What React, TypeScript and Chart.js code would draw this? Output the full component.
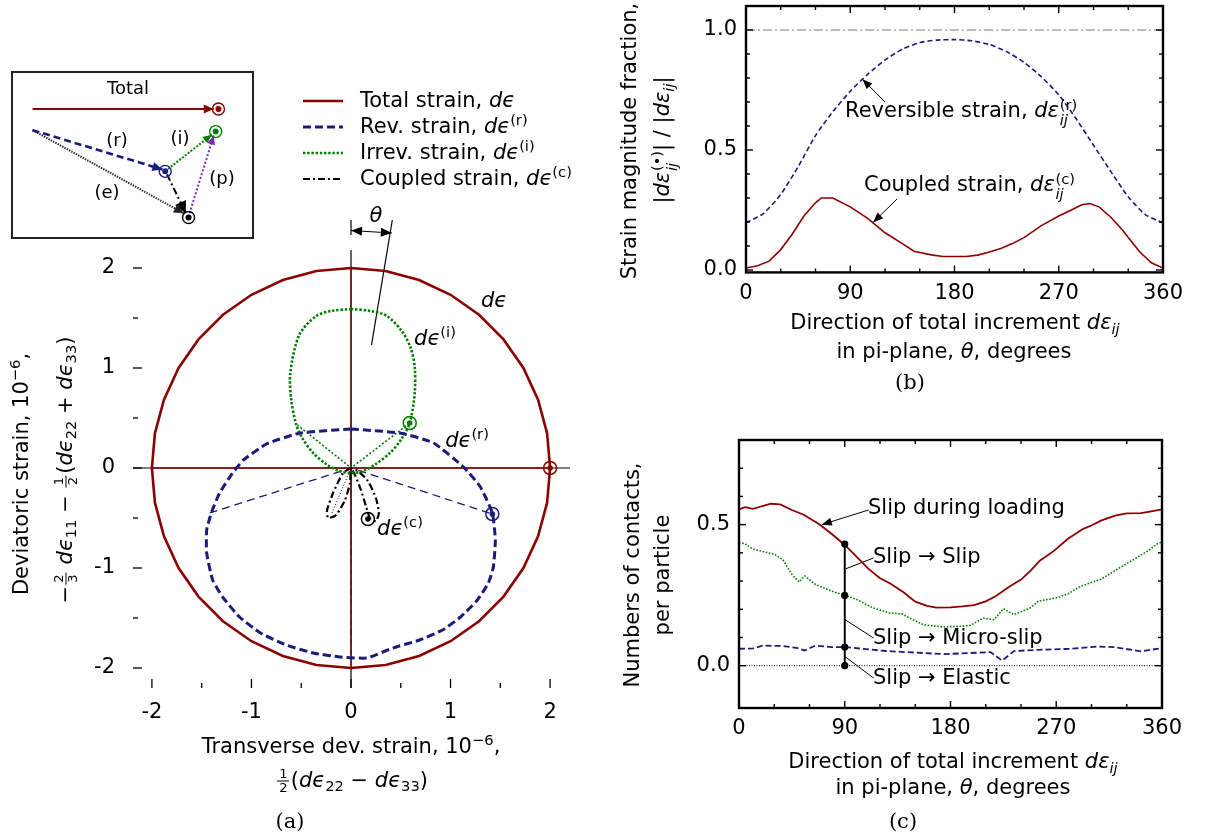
import React, { useEffect, useRef } from "react";
import { Chart, registerables } from "chart.js";

Chart.register(...registerables);

const SANS = "'DejaVu Sans', 'Noto Sans', sans-serif";
const SERIF = "'DejaVu Serif', 'Liberation Serif', serif";
const RED = "#8b0000";
const NAVY = "#1b1b7a";
const GREEN = "#007d00";
const PURPLE = "#7d2bb0";
const GREY = "#7a7a7a";

// ---------------- Panel (a): deviatoric-plane curves (10^-6) ----------------
const totalX = [0, 0.347, 0.684, 1.0, 1.286, 1.532, 1.732, 1.879, 1.97, 2.0, 1.97, 1.879, 1.732, 1.532, 1.286, 1.0, 0.684, 0.347, 0, -0.347, -0.684, -1.0, -1.286, -1.532, -1.732, -1.879, -1.97, -2.0, -1.97, -1.879, -1.732, -1.532, -1.286, -1.0, -0.684, -0.347, 0];
const totalY = [2.0, 1.97, 1.879, 1.732, 1.532, 1.286, 1.0, 0.684, 0.347, 0, -0.347, -0.684, -1.0, -1.286, -1.532, -1.732, -1.879, -1.97, -2.0, -1.97, -1.879, -1.732, -1.532, -1.286, -1.0, -0.684, -0.347, 0, 0.347, 0.684, 1.0, 1.286, 1.532, 1.732, 1.879, 1.97, 2.0];
const revX = [0, 0.49, 0.83, 1.13, 1.3, 1.42, 1.45, 1.43, 1.38, 1.27, 1.1, 0.92, 0.69, 0.42, 0.16, -0.11, -0.38, -0.65, -0.91, -1.12, -1.29, -1.39, -1.45, -1.45, -1.4, -1.32, -1.19, -1.08, -0.85, -0.51, 0];
const revY = [0.39, 0.35, 0.25, 0.01, -0.19, -0.45, -0.72, -0.99, -1.15, -1.32, -1.49, -1.62, -1.72, -1.8, -1.9, -1.89, -1.85, -1.77, -1.65, -1.49, -1.29, -1.12, -0.85, -0.62, -0.44, -0.25, -0.05, 0.08, 0.24, 0.35, 0.39];
const irrX = [0, 0.2, 0.36, 0.51, 0.6, 0.64, 0.64, 0.59, 0.5, 0.39, 0.25, 0.12, 0, -0.12, -0.25, -0.38, -0.49, -0.55, -0.6, -0.61, -0.52, -0.35, -0.2, 0];
const irrY = [1.59, 1.57, 1.52, 1.37, 1.2, 1.01, 0.75, 0.45, 0.28, 0.15, 0.04, -0.03, -0.05, -0.03, 0.04, 0.15, 0.3, 0.43, 0.68, 0.95, 1.33, 1.52, 1.57, 1.59];
const cplX = [0, -0.08, -0.18, -0.24, -0.23, -0.15, -0.06, -0.01, 0, 0.04, 0.1, 0.15, 0.19, 0.25, 0.28, 0.25, 0.17, 0.07, 0];
const cplY = [0, -0.05, -0.25, -0.42, -0.5, -0.47, -0.32, -0.15, 0, -0.07, -0.22, -0.38, -0.5, -0.53, -0.45, -0.3, -0.13, -0.03, 0];
const cplInnerX = [0, -0.2];
const cplInnerY = [0, -0.47];
const redHX = [-2, 2];
const redHY = [0, 0];
const redVX = [0, 0];
const redVY = [-2, 2];
const revRadialX = [-1.42, 0, 1.42];
const revRadialY = [-0.45, 0, -0.46];
const revAxisX = [0, 0];
const revAxisY = [0.39, -1.9];
const irrRadialX = [-0.54, 0, 0.59];
const irrRadialY = [0.43, 0, 0.45];
const irrAxisX = [0, 0];
const irrAxisY = [0, 1.59];
const markX = [2, 1.42, 0.59, 0.17];
const markY = [0, -0.46, 0.45, -0.51];
const markColors = [RED, NAVY, GREEN, "#000"];
const thetaLineX = [0.206, 0.415];
const thetaLineY = [1.23, 2.48];
const thetaArrowX = [0, 0.41];
const thetaArrowY = [2.375, 2.35];
const thetaStubX = [0, 0];
const thetaStubY = [2.48, 2.33];
const aMajor = [-2, -1, 0, 1, 2];
const aMinor = [-1.5, -0.5, 0.5, 1.5];

// ---------------- Inset schematic ----------------
const insTotalX = [13, 207];
const insTotalY = [31.6, 31.6];
const insRevX = [13, 152];
const insRevY = [55, 98.5];
const insIrrX = [158, 205];
const insIrrY = [98, 60];
const insCplX = [157, 177];
const insCplY = [104, 147];
const insElaX = [13, 175];
const insElaY = [55, 147];
const insPlaX = [181, 207];
const insPlaY = [147, 61];
const insRingX = [212, 155, 209, 180];
const insRingY = [31.6, 100.6, 56.6, 151.6];

// ---------------- Panel (b): magnitude fractions ----------------
const revTheta = [0, 15, 30, 45, 60, 75, 90, 105, 120, 135, 150, 165, 180, 195, 210, 225, 240, 255, 270, 285, 300, 315, 330, 345, 360];
const revFrac = [0.197, 0.235, 0.315, 0.43, 0.56, 0.66, 0.745, 0.815, 0.875, 0.92, 0.948, 0.958, 0.96, 0.955, 0.94, 0.91, 0.865, 0.805, 0.73, 0.63, 0.52, 0.41, 0.305, 0.23, 0.197];
const cplTheta = [0, 10, 20, 30, 40, 50, 60, 65, 75, 90, 105, 120, 135, 145, 160, 170, 190, 200, 210, 220, 230, 240, 255, 270, 280, 290, 297, 305, 315, 325, 330, 340, 350, 360];
const cplFrac = [0.008, 0.018, 0.037, 0.085, 0.15, 0.225, 0.28, 0.3, 0.3, 0.263, 0.215, 0.155, 0.11, 0.078, 0.063, 0.056, 0.056, 0.062, 0.075, 0.09, 0.11, 0.135, 0.185, 0.225, 0.248, 0.272, 0.277, 0.262, 0.22, 0.167, 0.135, 0.075, 0.03, 0.008];
const bRefTheta = [0, 360];
const bRefVal = [1, 1];
const bArrowRevT = [120, 100.5];
const bArrowRevV = [0.7, 0.795];
const bArrowCplT = [130.4, 109.8];
const bArrowCplV = [0.296, 0.198];
const bXMajor = [0, 90, 180, 270, 360];
const bXMinor = [30, 60, 120, 150, 210, 240, 300, 330];
const bYMajor = [0, 0.5, 1.0];
const bYMinor = [0.1, 0.2, 0.3, 0.4, 0.6, 0.7, 0.8, 0.9];

// ---------------- Panel (c): contacts per particle ----------------
const slipTheta = [0, 5, 12, 20, 27, 35, 45, 55, 68, 79, 90, 100, 110, 120, 128, 140, 150, 160, 168, 180, 190, 200, 210, 218, 230, 240, 248, 256, 268, 280, 293, 300, 308, 320, 330, 342, 352, 360];
const slipVal = [0.554, 0.562, 0.556, 0.566, 0.574, 0.572, 0.552, 0.535, 0.502, 0.467, 0.428, 0.387, 0.344, 0.31, 0.293, 0.26, 0.227, 0.212, 0.206, 0.207, 0.21, 0.215, 0.228, 0.245, 0.28, 0.305, 0.336, 0.372, 0.407, 0.45, 0.485, 0.497, 0.514, 0.532, 0.54, 0.541, 0.548, 0.554];
const microTheta = [0, 5, 12, 20, 30, 37, 45, 51, 56, 65, 79, 90, 100, 114, 128, 139, 145, 157, 174, 190, 197, 208, 217, 225, 234, 248, 255, 271, 280, 291, 308, 322, 339, 348, 357, 360];
const microVal = [0.437, 0.432, 0.413, 0.405, 0.395, 0.377, 0.324, 0.297, 0.318, 0.288, 0.264, 0.249, 0.235, 0.205, 0.187, 0.183, 0.169, 0.145, 0.137, 0.14, 0.143, 0.169, 0.163, 0.202, 0.181, 0.205, 0.229, 0.241, 0.255, 0.282, 0.306, 0.342, 0.384, 0.407, 0.435, 0.437];
const elasTheta = [0, 12, 20, 37, 50, 56, 65, 79, 90, 125, 174, 197, 214, 224, 234, 254, 282, 305, 319, 342, 358, 360];
const elasVal = [0.06, 0.061, 0.071, 0.07, 0.062, 0.054, 0.071, 0.066, 0.066, 0.052, 0.041, 0.045, 0.048, 0.018, 0.052, 0.056, 0.06, 0.068, 0.066, 0.051, 0.061, 0.061];
const zeroTheta = [0, 360];
const zeroVal = [0, 0];
const barTheta = [90, 90, 90, 90];
const barVal = [0, 0.066, 0.249, 0.431];
const cArrowT = [110.3, 70.5];
const cArrowV = [0.552, 0.5];
const cLeadSlipT = [114.6, 90.6];
const cLeadSlipV = [0.382, 0.343];
const cLeadMicroT = [114.6, 90.6];
const cLeadMicroV = [0.098, 0.162];
const cLeadElasT = [114.6, 90.6];
const cLeadElasV = [-0.044, 0.031];
const cYMajor = [0, 0.5];
const cYMinor = [0.1, 0.2, 0.3, 0.4, 0.6, 0.7];

// ---------------- helpers ----------------
const P = (xs: number[], ys: number[]) => xs.map((x, i) => ({ x, y: ys[i] }));
const L = (data: any[], color: string, width: number, dash: number[] = [], extra: any = {}) => ({
  data,
  showLine: true,
  borderColor: color,
  backgroundColor: color,
  borderWidth: width,
  borderDash: dash,
  borderCapStyle: "butt",
  pointRadius: 0,
  pointHoverRadius: 0,
  fill: false,
  tension: 0,
  ...extra,
});

function head(ctx: CanvasRenderingContext2D, x1: number, y1: number, x2: number, y2: number, len: number, w: number, color: string) {
  const a = Math.atan2(y2 - y1, x2 - x1);
  const c = Math.cos(a), s = Math.sin(a);
  ctx.beginPath();
  ctx.moveTo(x2, y2);
  ctx.lineTo(x2 - len * c + w * s, y2 - len * s - w * c);
  ctx.lineTo(x2 - len * c - w * s, y2 - len * s + w * c);
  ctx.closePath();
  ctx.fillStyle = color;
  ctx.fill();
}

const deco = {
  id: "deco",
  beforeDatasetsDraw(chart: any, _a: any, o: any) {
    if (!o || !o.zeroAxes) return;
    const { ctx, chartArea: a, scales } = chart;
    const x0 = scales.x.getPixelForValue(0);
    const y0 = scales.y.getPixelForValue(0);
    ctx.save();
    ctx.strokeStyle = "#000";
    ctx.lineWidth = 1.2;
    ctx.beginPath();
    ctx.moveTo(a.left, y0);
    ctx.lineTo(a.right, y0);
    ctx.moveTo(x0, a.top);
    ctx.lineTo(x0, a.bottom);
    ctx.stroke();
    ctx.restore();
  },
  afterDatasetsDraw(chart: any, _a: any, o: any) {
    if (!o) return;
    const { ctx, chartArea: a, scales } = chart;
    ctx.save();
    ctx.setLineDash([]);
    if (o.frame) {
      ctx.strokeStyle = "#000";
      ctx.lineWidth = o.frame;
      ctx.strokeRect(a.left, a.top, a.right - a.left, a.bottom - a.top);
    }
    if (o.ticks) {
      const t = o.ticks;
      ctx.strokeStyle = "#000";
      ctx.lineWidth = t.width || 1.3;
      const seg = (x1: number, y1: number, x2: number, y2: number) => {
        ctx.beginPath();
        ctx.moveTo(x1, y1);
        ctx.lineTo(x2, y2);
        ctx.stroke();
      };
      const doX = (vals: number[], len: number) =>
        vals.forEach((v) => {
          const px = scales.x.getPixelForValue(v);
          if (t.sides.includes("bottom")) seg(px, a.bottom, px, a.bottom - len);
          if (t.sides.includes("top")) seg(px, a.top, px, a.top + len);
        });
      const doY = (vals: number[], len: number) =>
        vals.forEach((v) => {
          const py = scales.y.getPixelForValue(v);
          if (t.sides.includes("left")) seg(a.left, py, a.left + len, py);
          if (t.sides.includes("right")) seg(a.right, py, a.right - len, py);
        });
      doX(t.xMajor, t.majorLen);
      doX(t.xMinor, t.minorLen);
      doY(t.yMajor, t.majorLen);
      doY(t.yMinor, t.minorLen);
    }
    chart.data.datasets.forEach((ds: any, i: number) => {
      if (!ds.arrow) return;
      const els = chart.getDatasetMeta(i).data;
      const n = els.length;
      const [len, w] = ds.arrowSize || [10, 4];
      const col = ds.arrowColor || ds.borderColor;
      head(ctx, els[n - 2].x, els[n - 2].y, els[n - 1].x, els[n - 1].y, len, w, col);
      if (ds.arrow === "both") head(ctx, els[1].x, els[1].y, els[0].x, els[0].y, len, w, col);
    });
    if (o.legend) {
      const lg = o.legend;
      lg.items.forEach((idx: number, k: number) => {
        const ds = chart.data.datasets[idx];
        ctx.strokeStyle = ds.borderColor;
        ctx.lineWidth = ds.borderWidth;
        ctx.setLineDash(ds.borderDash || []);
        ctx.beginPath();
        ctx.moveTo(lg.x0, lg.ys[k]);
        ctx.lineTo(lg.x1, lg.ys[k]);
        ctx.stroke();
      });
      ctx.setLineDash([]);
    }
    ctx.restore();
  },
};

const tickFont = { family: SANS, size: 21 };

function baseScale(min: number, max: number, ticks: number[], fmt: (v: number) => string, pad: number, axis: "x" | "y", size: number, extra: any = {}) {
  return {
    type: "linear",
    min,
    max,
    afterBuildTicks: (s: any) => {
      s.ticks = ticks.map((v) => ({ value: v }));
    },
    afterFit: (s: any) => {
      if (axis === "x") s.height = size;
      else s.width = size;
      s.paddingTop = 0;
      s.paddingBottom = 0;
      s.paddingLeft = 0;
      s.paddingRight = 0;
    },
    grid: { display: false, drawTicks: false },
    border: { display: false },
    ticks: { padding: pad, font: tickFont, color: "#000", callback: (v: any) => fmt(Number(v)), maxRotation: 0, autoSkip: false },
    ...extra,
  };
}

const commonOpts = {
  animation: false,
  responsive: false,
  maintainAspectRatio: false,
  events: [],
  elements: { line: { tension: 0 }, point: { radius: 0 } },
};

function cfgA(): any {
  const datasets: any[] = [
    { data: P(markX, markY), showLine: false, pointRadius: 2.8, pointBackgroundColor: markColors, pointBorderWidth: 0 },
    { data: P(markX, markY), showLine: false, pointRadius: 6.5, pointBackgroundColor: "rgba(0,0,0,0)", pointBorderColor: markColors, pointBorderWidth: 1.5 },
    L(P(totalX, totalY), RED, 2.6),
    L(P(revX, revY), NAVY, 3, [8, 4], { tension: 0.15 }),
    L(P(irrX, irrY), GREEN, 2.6, [2.4, 1.8], { tension: 0.3 }),
    L(P(cplX, cplY), "#000", 2.2, [7, 3, 2, 3], { tension: 0.2 }),
    L(P(cplInnerX, cplInnerY), "#000", 1, [1, 2]),
    L(P(redHX, redHY), RED, 1.3),
    L(P(redVX, redVY), RED, 1.3),
    L(P(revRadialX, revRadialY), NAVY, 1.3, [8, 5]),
    L(P(revAxisX, revAxisY), NAVY, 1, [6, 4]),
    L(P(irrRadialX, irrRadialY), GREEN, 1.6, [2, 2]),
    L(P(irrAxisX, irrAxisY), GREEN, 1, [2, 2]),
    L(P(thetaLineX, thetaLineY), "#000", 1.2, [], { clip: false }),
    L(P(thetaArrowX, thetaArrowY), "#000", 1.2, [], { clip: false, arrow: "both", arrowSize: [11, 4.5] }),
    L(P(thetaStubX, thetaStubY), "#000", 1.2, [], { clip: false }),
  ];
  return {
    type: "scatter",
    data: { datasets },
    options: {
      ...commonOpts,
      layout: { padding: { left: 73, top: 250, right: 30, bottom: 110 } },
      plugins: {
        legend: { display: false },
        tooltip: { enabled: false },
        deco: {
          zeroAxes: true,
          ticks: { sides: ["left", "bottom"], xMajor: aMajor, xMinor: aMinor, yMajor: aMajor, yMinor: aMinor, majorLen: 9, minorLen: 5, width: 1.3 },
          legend: { x0: 303, x1: 343, ys: [101, 127, 153, 179], items: [2, 3, 4, 5] },
        },
      },
      scales: {
        x: baseScale(-2.19, 2.2, aMajor, (v) => String(v), 12, "x", 40),
        y: baseScale(-2.2, 2.18, aMajor, (v) => String(v), 18, "y", 60),
      },
    },
    plugins: [deco],
  };
}

function cfgInset(): any {
  const datasets: any[] = [
    { data: P(insRingX, insRingY), showLine: false, pointRadius: 3, pointBackgroundColor: markColors, pointBorderWidth: 0 },
    { data: P(insRingX, insRingY), showLine: false, pointRadius: 6, pointBackgroundColor: "rgba(0,0,0,0)", pointBorderColor: markColors, pointBorderWidth: 1.4 },
    L(P(insTotalX, insTotalY), RED, 2, [], { arrow: "end", arrowSize: [10, 4.5] }),
    L(P(insRevX, insRevY), NAVY, 2.6, [7, 4], { arrow: "end", arrowSize: [10, 4.5] }),
    L(P(insIrrX, insIrrY), GREEN, 2, [2, 1.6], { arrow: "end", arrowSize: [9, 4] }),
    L(P(insCplX, insCplY), "#000", 2, [7, 3, 2, 3], { arrow: "end", arrowSize: [12, 6] }),
    L(P(insElaX, insElaY), "#222", 2, [1.4, 1.2], { arrow: "end", arrowSize: [10, 4.5] }),
    L(P(insPlaX, insPlaY), PURPLE, 2, [2, 2], { arrow: "end", arrowSize: [9, 4] }),
  ];
  return {
    type: "scatter",
    data: { datasets },
    options: {
      ...commonOpts,
      layout: { padding: 0 },
      plugins: { legend: { display: false }, tooltip: { enabled: false }, deco: {} },
      scales: {
        x: { type: "linear", min: 0, max: 240, display: false },
        y: { type: "linear", min: 0, max: 165, reverse: true, display: false },
      },
    },
    plugins: [deco],
  };
}

function cfgB(): any {
  const datasets: any[] = [
    L(P(cplTheta, cplFrac), RED, 1.6),
    L(P(revTheta, revFrac), NAVY, 1.6, [5, 3], { tension: 0.2 }),
    L(P(bRefTheta, bRefVal), GREY, 1.2, [9, 3, 2, 3]),
    L(P(bArrowRevT, bArrowRevV), "#000", 1, [], { arrow: "end", arrowSize: [10, 4] }),
    L(P(bArrowCplT, bArrowCplV), "#000", 1, [], { arrow: "end", arrowSize: [10, 4] }),
  ];
  return {
    type: "scatter",
    data: { datasets },
    options: {
      ...commonOpts,
      layout: { padding: { left: 86, top: 6, right: 51, bottom: 107.6 } },
      plugins: {
        legend: { display: false },
        tooltip: { enabled: false },
        deco: {
          frame: 2.4,
          ticks: { sides: ["left", "bottom", "right", "top"], xMajor: bXMajor, xMinor: bXMinor, yMajor: bYMajor, yMinor: bYMinor, majorLen: 7, minorLen: 4, width: 1.4 },
        },
      },
      scales: {
        x: baseScale(0, 360, bXMajor, (v) => String(v), 8.5, "x", 40),
        y: baseScale(-0.01, 1.1, bYMajor, (v) => v.toFixed(1), 9, "y", 60),
      },
    },
    plugins: [deco],
  };
}

function cfgC(): any {
  const datasets: any[] = [
    L(P(barTheta, barVal), "#000", 2, [], { pointRadius: 3.6, pointBackgroundColor: "#000", pointBorderWidth: 0 }),
    L(P(slipTheta, slipVal), RED, 1.8),
    L(P(microTheta, microVal), GREEN, 1.6, [1.6, 1.6]),
    L(P(elasTheta, elasVal), NAVY, 1.8, [6, 3]),
    L(P(zeroTheta, zeroVal), "#000", 1, [1, 1.5]),
    L(P(cArrowT, cArrowV), "#000", 1, [], { arrow: "end", arrowSize: [10, 4] }),
    L(P(cLeadSlipT, cLeadSlipV), "#000", 1),
    L(P(cLeadMicroT, cLeadMicroV), "#000", 1),
    L(P(cLeadElasT, cLeadElasV), "#000", 1),
  ];
  return {
    type: "scatter",
    data: { datasets },
    options: {
      ...commonOpts,
      layout: { padding: { left: 79, top: 20, right: 52, bottom: 90 } },
      plugins: {
        legend: { display: false },
        tooltip: { enabled: false },
        deco: {
          frame: 2.4,
          ticks: { sides: ["left", "bottom", "right", "top"], xMajor: bXMajor, xMinor: bXMinor, yMajor: cYMajor, yMinor: cYMinor, majorLen: 7, minorLen: 4, width: 1.4 },
        },
      },
      scales: {
        x: baseScale(0, 360, bXMajor, (v) => String(v), 7.5, "x", 40),
        y: baseScale(-0.15, 0.8, cYMajor, (v) => v.toFixed(1), 9, "y", 60),
      },
    },
    plugins: [deco],
  };
}

// ---------------- text helpers ----------------
const It = ({ children }: any) => <span style={{ fontStyle: "italic" }}>{children}</span>;
const Sub = ({ children }: any) => <span style={{ fontSize: "0.7em", verticalAlign: "-0.3em", lineHeight: 0 }}>{children}</span>;
const Sup = ({ children }: any) => <span style={{ fontSize: "0.7em", verticalAlign: "0.55em", lineHeight: 0 }}>{children}</span>;
const SupSub = ({ sup, sub }: any) => (
  <span style={{ display: "inline-flex", flexDirection: "column", fontSize: "0.7em", lineHeight: 1, verticalAlign: "0.45em", marginLeft: "0.05em" }}>
    <span>{sup}</span>
    <span style={{ fontStyle: "italic" }}>{sub}</span>
  </span>
);
const Frac = ({ n, d }: any) => (
  <span style={{ display: "inline-flex", flexDirection: "column", alignItems: "center", fontSize: "0.62em", lineHeight: 1, verticalAlign: "middle", margin: "0 0.1em" }}>
    <span>{n}</span>
    <span style={{ borderTop: "1.5px solid #000", padding: "0 0.15em" }}>{d}</span>
  </span>
);

const Txt = ({ x, y, children, rot, left, size = 21, serif }: any) => (
  <div
    style={{
      position: "absolute",
      left: x,
      top: y,
      whiteSpace: "nowrap",
      lineHeight: 1.2,
      fontSize: size,
      fontFamily: serif ? SERIF : SANS,
      color: "#000",
      transform: `translate(${left ? "0" : "-50%"}, -50%)${rot ? " rotate(-90deg)" : ""}`,
    }}
  >
    {children}
  </div>
);

const dEps = <It>dϵ</It>;
const dVeps = <It>dε</It>;

export default function App() {
  const refA = useRef<HTMLCanvasElement>(null);
  const refI = useRef<HTMLCanvasElement>(null);
  const refB = useRef<HTMLCanvasElement>(null);
  const refC = useRef<HTMLCanvasElement>(null);

  useEffect(() => {
    Chart.defaults.font.family = SANS;
    const charts = [
      new Chart(refA.current as any, cfgA()),
      new Chart(refI.current as any, cfgInset()),
      new Chart(refB.current as any, cfgB()),
      new Chart(refC.current as any, cfgC()),
    ];
    return () => charts.forEach((c) => c.destroy());
  }, []);

  return (
    <div style={{ position: "fixed", left: 0, top: 0, width: 1214, height: 838, background: "#fff", overflow: "hidden", fontFamily: SANS }}>
      <canvas ref={refA} width={600} height={838} style={{ position: "absolute", left: 0, top: 0, width: 600, height: 838 }} />
      <canvas ref={refB} width={614} height={420} style={{ position: "absolute", left: 600, top: 0, width: 614, height: 420 }} />
      <canvas ref={refC} width={614} height={418} style={{ position: "absolute", left: 600, top: 420, width: 614, height: 418 }} />
      <div style={{ position: "absolute", left: 11, top: 71, width: 243, height: 168, border: "2px solid #222", boxSizing: "border-box", background: "#fff" }}>
        <canvas ref={refI} width={239} height={164} style={{ position: "absolute", left: 0, top: 0, width: 239, height: 164 }} />
      </div>

      {/* inset labels */}
      <Txt x={128} y={88} size={18}>Total</Txt>
      <Txt x={117} y={140} size={18}>(r)</Txt>
      <Txt x={180} y={138} size={18}>(i)</Txt>
      <Txt x={107} y={192} size={18}>(e)</Txt>
      <Txt x={222} y={178} size={18}>(p)</Txt>

      {/* legend of (a) */}
      <Txt x={360} y={101} left>Total strain, {dEps}</Txt>
      <Txt x={360} y={127} left>Rev. strain, {dEps}<Sup>(r)</Sup></Txt>
      <Txt x={360} y={153} left>Irrev. strain, {dEps}<Sup>(i)</Sup></Txt>
      <Txt x={360} y={179} left>Coupled strain, {dEps}<Sup>(c)</Sup></Txt>

      {/* panel (a) annotations */}
      <Txt x={376} y={216}><It>θ</It></Txt>
      <Txt x={494} y={301}>{dEps}</Txt>
      <Txt x={435} y={339}>{dEps}<Sup>(i)</Sup></Txt>
      <Txt x={467} y={441}>{dEps}<Sup>(r)</Sup></Txt>
      <Txt x={400} y={529}>{dEps}<Sup>(c)</Sup></Txt>

      {/* panel (a) axis titles */}
      <Txt x={22} y={474} rot>Deviatoric strain, 10<Sup>−6</Sup>,</Txt>
      <Txt x={66} y={470} rot>
        −<Frac n="2" d="3" /> {dEps}<Sub>11</Sub> − <Frac n="1" d="2" />({dEps}<Sub>22</Sub> + {dEps}<Sub>33</Sub>)
      </Txt>
      <Txt x={351} y={747}>Transverse dev. strain, 10<Sup>−6</Sup>,</Txt>
      <Txt x={352} y={781}>
        <Frac n="1" d="2" />({dEps}<Sub>22</Sub> − {dEps}<Sub>33</Sub>)
      </Txt>
      <Txt x={290} y={822} serif>(a)</Txt>

      {/* panel (b) */}
      <Txt x={630} y={141} rot>Strain magnitude fraction,</Txt>
      <Txt x={665} y={140} rot>
        |{dVeps}<SupSub sup="(•)" sub="ij" />| / |{dVeps}<Sub><It>ij</It></Sub>|
      </Txt>
      <Txt x={845} y={113} left>Reversible strain, {dVeps}<SupSub sup="(r)" sub="ij" /></Txt>
      <Txt x={864} y={187} left>Coupled strain, {dVeps}<SupSub sup="(c)" sub="ij" /></Txt>
      <Txt x={955} y={323}>Direction of total increment {dVeps}<Sub><It>ij</It></Sub></Txt>
      <Txt x={954} y={352}>in pi-plane, <It>θ</It>, degrees</Txt>
      <Txt x={910} y={383} serif>(b)</Txt>

      {/* panel (c) */}
      <Txt x={633} y={575} rot>Numbers of contacts,</Txt>
      <Txt x={663} y={575} rot>per particle</Txt>
      <Txt x={868} y={508} left>Slip during loading</Txt>
      <Txt x={873} y={557} left>Slip → Slip</Txt>
      <Txt x={873} y={638} left>Slip → Micro-slip</Txt>
      <Txt x={873} y={678} left>Slip → Elastic</Txt>
      <Txt x={953} y={762}>Direction of total increment {dVeps}<Sub><It>ij</It></Sub></Txt>
      <Txt x={953} y={788}>in pi-plane, <It>θ</It>, degrees</Txt>
      <Txt x={903} y={822} serif>(c)</Txt>
    </div>
  );
}
